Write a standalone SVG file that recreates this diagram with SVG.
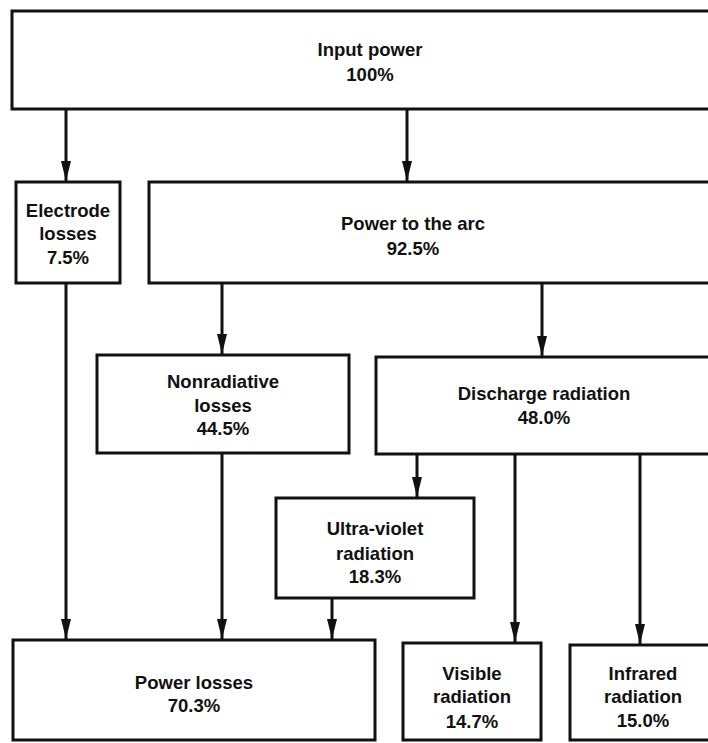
<svg xmlns="http://www.w3.org/2000/svg" width="708" height="743" viewBox="0 0 708 743">
  <style>
    .box { fill: #ffffff; stroke: #111111; stroke-width: 3; }
    .wire { fill: none; stroke: #111111; stroke-width: 3; }
    .lbl { font-family: "Liberation Sans", Arial, sans-serif; font-weight: bold; font-size: 18.5px; fill: #111111; text-anchor: middle; }
  </style>
  <defs>
    <marker id="arrow" viewBox="0 0 20 10" refX="20" refY="5" markerWidth="20" markerHeight="10" markerUnits="userSpaceOnUse" orient="auto">
      <path d="M0,0 L20,5 L0,10 Z" fill="#111111"/>
    </marker>
  </defs>
  <rect width="708" height="743" fill="#ffffff"/>

  <g id="connectors">
    <line class="wire" x1="66" y1="109" x2="66" y2="181" marker-end="url(#arrow)"/>
    <line class="wire" x1="407" y1="109" x2="407" y2="181" marker-end="url(#arrow)"/>
    <line class="wire" x1="66" y1="283" x2="66" y2="639" marker-end="url(#arrow)"/>
    <line class="wire" x1="222" y1="283" x2="222" y2="354" marker-end="url(#arrow)"/>
    <line class="wire" x1="542" y1="283" x2="542" y2="356" marker-end="url(#arrow)"/>
    <line class="wire" x1="222" y1="453" x2="222" y2="639" marker-end="url(#arrow)"/>
    <line class="wire" x1="417" y1="454" x2="417" y2="497" marker-end="url(#arrow)"/>
    <line class="wire" x1="515" y1="454" x2="515" y2="642" marker-end="url(#arrow)"/>
    <line class="wire" x1="640" y1="454" x2="640" y2="644" marker-end="url(#arrow)"/>
    <line class="wire" x1="332" y1="598" x2="332" y2="639" marker-end="url(#arrow)"/>
  </g>

  <g id="input-power">
    <rect class="box" x="12" y="11" width="712" height="98"/>
    <text class="lbl" x="370" y="56">Input power</text>
    <text class="lbl" x="370" y="81">100%</text>
  </g>

  <g id="electrode-losses">
    <rect class="box" x="16" y="182" width="104" height="101"/>
    <text class="lbl" x="68" y="217">Electrode</text>
    <text class="lbl" x="68" y="240">losses</text>
    <text class="lbl" x="68" y="264">7.5%</text>
  </g>

  <g id="power-to-arc">
    <rect class="box" x="149" y="182" width="575" height="101"/>
    <text class="lbl" x="413" y="230">Power to the arc</text>
    <text class="lbl" x="413" y="255">92.5%</text>
  </g>

  <g id="nonradiative-losses">
    <rect class="box" x="97" y="355" width="252" height="98"/>
    <text class="lbl" x="223" y="388">Nonradiative</text>
    <text class="lbl" x="223" y="412">losses</text>
    <text class="lbl" x="223" y="435">44.5%</text>
  </g>

  <g id="discharge-radiation">
    <rect class="box" x="376" y="357" width="348" height="97"/>
    <text class="lbl" x="544" y="400">Discharge radiation</text>
    <text class="lbl" x="544" y="424">48.0%</text>
  </g>

  <g id="ultraviolet-radiation">
    <rect class="box" x="276" y="498" width="198" height="100"/>
    <text class="lbl" x="375" y="535">Ultra-violet</text>
    <text class="lbl" x="375" y="560">radiation</text>
    <text class="lbl" x="375" y="583">18.3%</text>
  </g>

  <g id="power-losses">
    <rect class="box" x="13" y="640" width="362" height="100"/>
    <text class="lbl" x="194" y="689">Power losses</text>
    <text class="lbl" x="194" y="712">70.3%</text>
  </g>

  <g id="visible-radiation">
    <rect class="box" x="403" y="643" width="138" height="97"/>
    <text class="lbl" x="472" y="680">Visible</text>
    <text class="lbl" x="472" y="703">radiation</text>
    <text class="lbl" x="472" y="728">14.7%</text>
  </g>

  <g id="infrared-radiation">
    <rect class="box" x="570" y="645" width="154" height="95"/>
    <text class="lbl" x="643" y="680">Infrared</text>
    <text class="lbl" x="643" y="703">radiation</text>
    <text class="lbl" x="643" y="727">15.0%</text>
  </g>
</svg>
